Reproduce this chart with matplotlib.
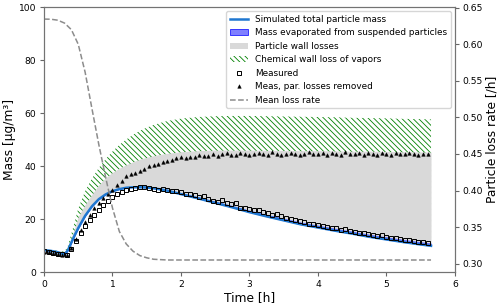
import numpy as np
import matplotlib
matplotlib.use("Agg")
import matplotlib.pyplot as plt
from matplotlib.lines import Line2D
from matplotlib.patches import Patch

plt.rcParams['hatch.linewidth'] = 0.6

# ---- simulation ----
t_sim = [0, 0.1, 0.2, 0.3, 0.35, 0.4, 0.45, 0.5, 0.6, 0.7, 0.8, 0.9, 1.0, 1.1, 1.2,
         1.3, 1.4, 1.5, 1.6, 1.7, 1.8, 2.0, 2.25, 2.5, 2.75, 3.0, 3.25, 3.5, 3.75,
         4.0, 4.25, 4.5, 4.75, 5.0, 5.25, 5.5, 5.65]
sim_mass = [8.3, 8.0, 7.5, 6.6, 8.3, 11.2, 14.0, 16.6, 21.2, 24.8, 27.5, 29.3, 30.5,
            31.3, 31.8, 32.0, 32.0, 31.9, 31.6, 31.2, 30.7, 29.4, 27.8, 26.1, 24.4,
            22.6, 21.0, 19.5, 18.0, 16.8, 15.6, 14.5, 13.3, 12.3, 11.3, 10.4, 9.9]
evaporated = [0, 0, 0, 0, 0, 0, 0.02, 0.05, 0.08, 0.1, 0.13, 0.16, 0.2, 0.23, 0.26,
              0.28, 0.3, 0.32, 0.34, 0.36, 0.38, 0.4, 0.45, 0.5, 0.55, 0.6, 0.64,
              0.68, 0.72, 0.75, 0.78, 0.8, 0.82, 0.85, 0.87, 0.89, 0.9]
wall_top = [8.5, 8.3, 8.0, 7.8, 9.5, 13.0, 16.8, 21.0, 25.5, 29.3, 32.9, 35.6, 37.6,
            39.2, 40.5, 41.6, 42.6, 43.3, 43.9, 44.4, 44.8, 45.4, 45.8, 46.0, 46.0,
            46.0, 45.9, 45.9, 45.8, 45.8, 45.7, 45.6, 45.6, 45.5, 45.4, 45.3, 45.3]
vapor_top = [8.5, 8.3, 8.0, 7.8, 10.0, 14.5, 19.0, 24.0, 30.5, 35.3, 39.3, 42.6, 45.5,
             48.0, 50.0, 51.8, 53.3, 54.5, 55.5, 56.3, 57.0, 57.9, 58.5, 58.8, 58.9,
             58.9, 58.8, 58.7, 58.6, 58.5, 58.4, 58.2, 58.1, 58.0, 57.8, 57.7, 57.6]

# ---- measurements (every 4 min) ----
t_meas = np.arange(85) / 15.0
measured = [7.8, 7.6, 7.3, 7.0, 6.7, 6.4, 8.6, 11.8, 14.8, 17.3, 19.6, 21.7, 23.6,
            25.4, 26.9, 28.2, 29.3, 30.2, 30.9, 31.3, 31.7, 32.0, 32.1, 31.8, 31.4,
            31.1, 31.5, 31.0, 30.6, 30.4, 30.2, 29.5, 29.6, 28.9, 28.4, 28.6, 27.7,
            26.9, 26.6, 27.0, 26.1, 25.7, 25.9, 24.3, 24.0, 23.7, 23.3, 23.4, 22.5,
            22.2, 21.6, 21.8, 21.2, 20.4, 20.0, 19.8, 19.4, 19.0, 18.3, 18.0, 17.7,
            17.2, 16.9, 16.7, 16.5, 15.9, 16.1, 15.6, 15.1, 14.8, 14.8, 14.3, 14.0,
            13.6, 13.8, 13.2, 12.8, 12.7, 12.4, 12.0, 12.1, 11.7, 11.4, 11.5, 11.0]
meas_corr = [7.6, 7.4, 7.1, 6.9, 6.5, 6.3, 9.0, 12.5, 16.0, 19.0, 21.6, 24.0, 26.0,
             27.9, 29.6, 31.1, 32.9, 34.5, 36.2, 36.9, 37.5, 38.3, 39.0, 40.0, 40.3,
             40.8, 41.5, 41.8, 42.4, 43.0, 43.4, 43.2, 43.6, 43.3, 44.1, 43.7, 43.9,
             44.6, 43.8, 44.4, 44.9, 44.3, 44.2, 44.8, 44.5, 44.0, 44.6, 45.0, 44.4,
             44.3, 45.3, 44.7, 44.2, 44.6, 45.0, 44.6, 44.1, 44.5, 45.2, 44.7, 44.4,
             44.8, 44.3, 44.9, 44.5, 44.3, 45.4, 44.6, 44.4, 45.0, 44.3, 44.9, 44.6,
             44.2, 44.8, 44.5, 44.3, 45.0, 44.6, 44.4, 44.9, 44.5, 44.3, 44.7, 44.4]

# ---- loss rate ----
t_rate = [0, 0.1, 0.2, 0.3, 0.4, 0.5, 0.6, 0.7, 0.8, 0.9, 1.0, 1.1, 1.2, 1.3, 1.4,
          1.5, 1.6, 1.8, 2.0, 3.0, 4.0, 5.0, 5.65]
rate = [0.6345, 0.6343, 0.633, 0.629, 0.620, 0.600, 0.562, 0.512, 0.463, 0.418,
        0.376, 0.344, 0.327, 0.317, 0.311, 0.308, 0.306, 0.305, 0.305, 0.305,
        0.305, 0.305, 0.305]

t = np.array(t_sim)
sim = np.array(sim_mass)
evap_top = sim + np.array(evaporated)

HATCH = '\\' * 6

fig = plt.figure(figsize=(5.0, 3.05), dpi=100)
ax = fig.add_axes([0.088, 0.108, 0.822, 0.869])

ax.fill_between(t, evap_top, vapor_top, facecolor='none', edgecolor='green',
                hatch=HATCH, linewidth=0)
ax.fill_between(t, evap_top, wall_top, color='#d9d9d9', linewidth=0)
ax.fill_between(t, sim, evap_top, color='blue', alpha=0.5, linewidth=0.5,
                edgecolor='blue')
ax.plot(t, sim, color='#1f77d0', lw=1.8)
ax.plot(t_meas, measured, ls='none', marker='s', ms=3, mfc='none', mec='black',
        mew=0.7)
ax.plot(t_meas, meas_corr, ls='none', marker='^', ms=2.6, mfc='black', mec='black',
        mew=0.3)

ax.set_xlim(0, 6)
ax.set_ylim(0, 100)
ax.set_xlabel('Time [h]', fontsize=8.8, labelpad=1.5)
ax.set_ylabel('Mass [µg/m³]', fontsize=8.8, labelpad=2)
ax.tick_params(labelsize=6.6, color='0.4', length=3, pad=2.5)

ax2 = ax.twinx()
ax2.plot(t_rate, rate, color='#8c8c8c', ls='--', lw=1.1)
ax2.set_ylim(0.2885, 0.651)
ax2.set_yticks([0.30, 0.35, 0.40, 0.45, 0.50, 0.55, 0.60, 0.65])
ax2.set_ylabel('Particle loss rate [/h]', fontsize=8.8, labelpad=2)
ax2.tick_params(labelsize=6.6, color='0.4', length=3, pad=2.5)

for a in (ax, ax2):
    for s in a.spines.values():
        s.set_color('0.45')

handles = [
    Line2D([], [], color='#1f77d0', lw=1.8),
    Patch(facecolor=(0, 0, 1, 0.5), edgecolor='blue', linewidth=0.5),
    Patch(facecolor='#d9d9d9', edgecolor='none'),
    Patch(facecolor='none', edgecolor='green', hatch=HATCH, linewidth=0),
    Line2D([], [], ls='none', marker='s', ms=3, mfc='none', mec='black', mew=0.7),
    Line2D([], [], ls='none', marker='^', ms=2.6, mfc='black', mec='black', mew=0.3),
    Line2D([], [], color='#8c8c8c', ls='--', lw=1.1),
]
labels = ['Simulated total particle mass', 'Mass evaporated from suspended particles',
          'Particle wall losses', 'Chemical wall loss of vapors', 'Measured',
          'Meas, par. losses removed', 'Mean loss rate']
ax2.legend(handles, labels, loc='upper right', fontsize=6.4)

fig.savefig('out.png', dpi=100)
